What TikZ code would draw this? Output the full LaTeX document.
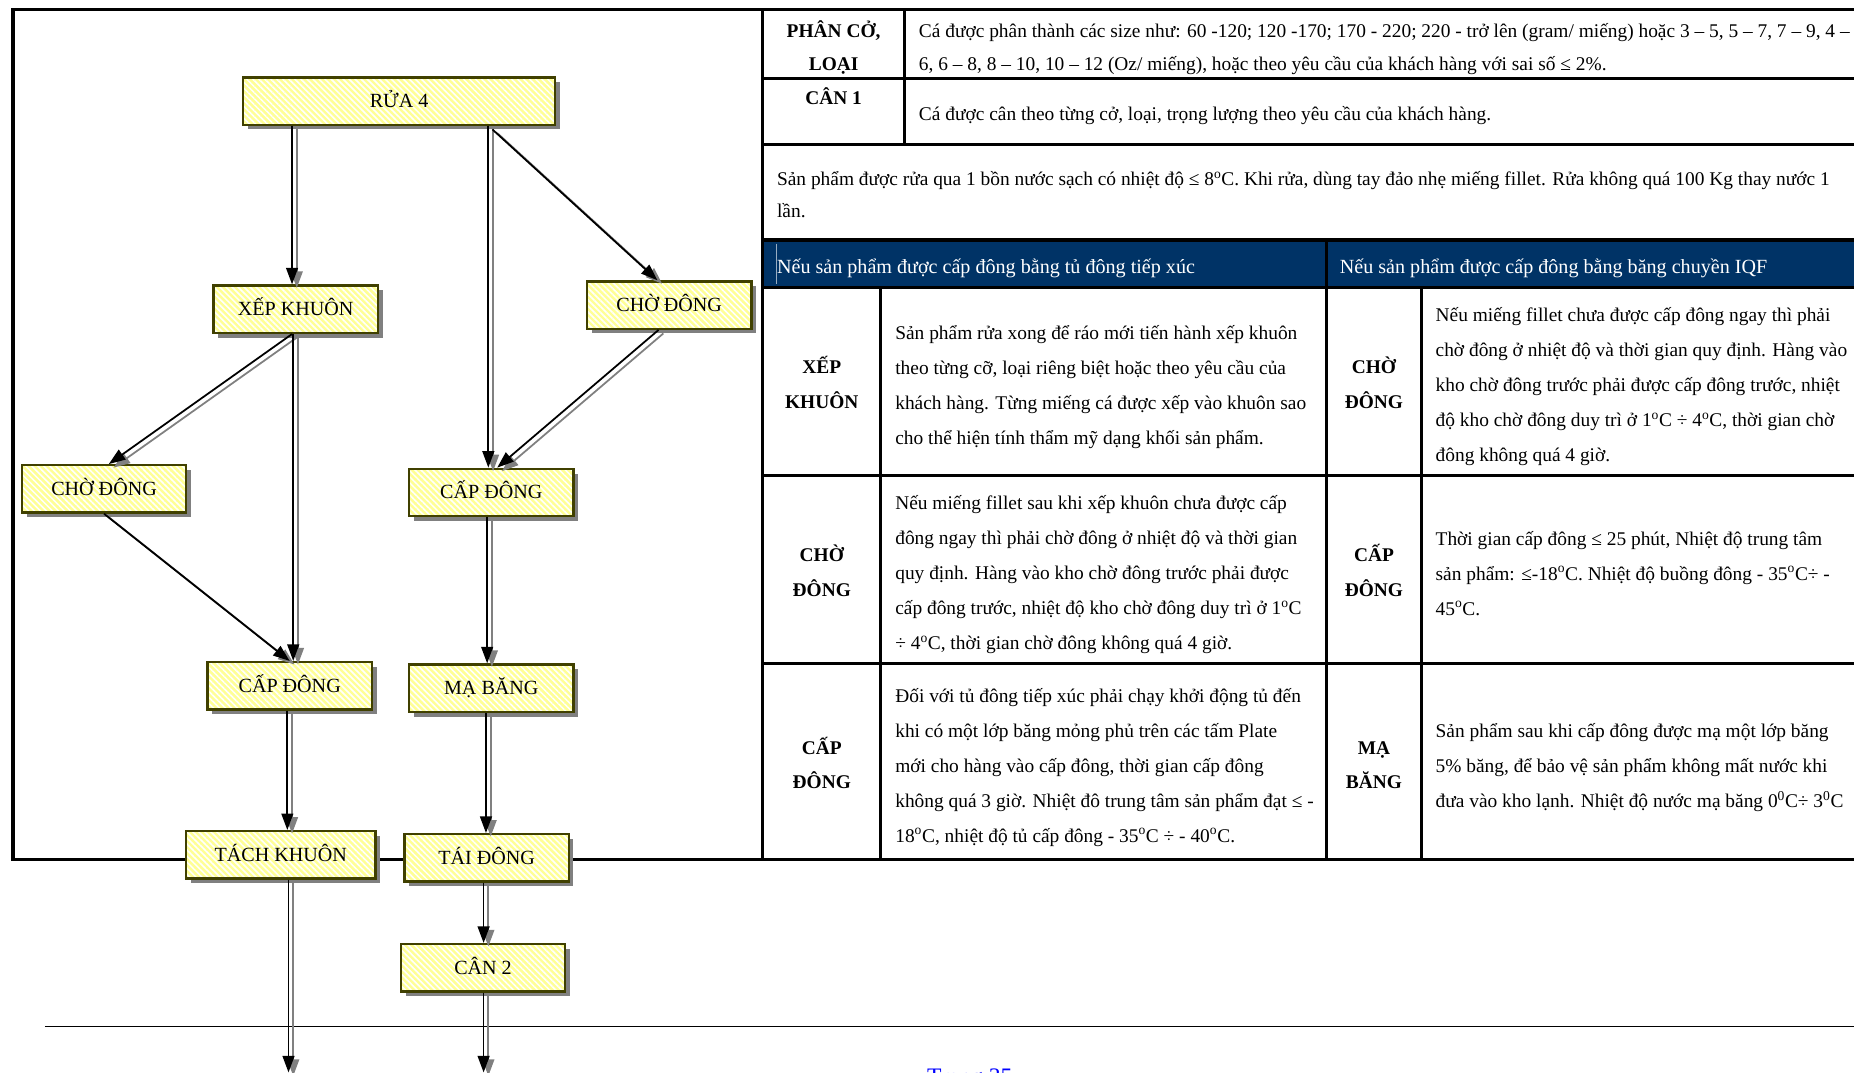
\documentclass[tikz,border=0pt]{standalone}
\usepackage{fontspec}
\setmainfont{Liberation Serif}
\usetikzlibrary{arrows.meta,patterns.meta,shadows,positioning}

\definecolor{hdrblue}{RGB}{0,51,102}
\definecolor{boxfill}{RGB}{255,255,150}
\definecolor{boxline}{RGB}{64,64,0}
\definecolor{shade}{RGB}{128,128,128}
\definecolor{pagblue}{RGB}{0,0,255}

\newcommand{\boxfont}{\fontsize{17}{20}\selectfont}
\newcommand{\txt}[2][29.6]{\parbox[t]{900pt}{\raggedright\fontsize{16.4}{#1}\selectfont #2}}
\newcommand{\hd}[2][29.6]{\parbox[t]{110pt}{\centering\bfseries\fontsize{16.4}{#1}\selectfont #2}}
\newcommand{\dg}{\textsuperscript{o}}

\begin{document}
\begin{tikzpicture}[x=1pt,y=-1pt,
    stepbox/.style={draw=boxline, line width=2pt, minimum width=139pt, minimum height=40pt, inner sep=0pt,
      drop shadow={shadow xshift=4pt, shadow yshift=-4pt, fill=shade, opacity=1},
      preaction={fill=boxfill},
      preaction={pattern={Lines[angle=-45,distance=3.6pt,line width=1.3pt]}, pattern color=white},
      font=\boxfont, text height=11pt, text depth=0pt},
    flow/.style={-{Triangle[length=14pt,width=10pt]}, line width=1.5pt,
      preaction={draw=shade, line width=1.5pt, -{Triangle[length=14pt,width=10pt]}, transform canvas={shift={(4pt,-3pt)}}}},
    tabline/.style={line width=2.6pt},
    cell/.style={anchor=base west, inner sep=0pt},
    lab/.style={anchor=base, inner sep=0pt}]
    \useasboundingbox (0,0) rectangle (1568,907);

    % frame and table lines
    \fill[hdrblue] (645,203) rectangle (1568,243);
    \draw[white!60!hdrblue, line width=0.8pt] (657,206) -- (657,240);
    \draw[tabline] (1568,8) -- (11,8) -- (11,727) -- (1568,727);
    \draw[tabline] (645,8) -- (645,727);
    \draw[tabline] (765,8) -- (765,122);
    \draw[tabline] (645,66) -- (1568,66);
    \draw[tabline] (645,122) -- (1568,122);
    \draw[tabline] (645,203) -- (1568,203);
    \draw[tabline] (645,243) -- (1568,243);
    \draw[tabline] (645,402) -- (1568,402);
    \draw[tabline] (645,561) -- (1568,561);
    \draw[tabline] (1122,203) -- (1122,727);
    \draw[tabline] (745,243) -- (745,727);
    \draw[tabline] (1202,243) -- (1202,727);
    \draw[line width=0.8pt] (38,868) -- (1568,868);

    % steps
    \node (rua) [stepbox, minimum width=264pt] at (337.5,85.5) {RỬA 4};;
    \node (xep) [stepbox] at (250,261.5) {XẾP KHUÔN};;
    \node (cho2) [stepbox] at (566,258) {CHỜ ĐÔNG};;
    \node (cho1) [stepbox] at (88,413.5) {CHỜ ĐÔNG};;
    \node (cap2) [stepbox] at (415.5,416.5) {CẤP ĐÔNG};;
    \node (cap1) [stepbox] at (245,580) {CẤP ĐÔNG};;
    \node (ma) [stepbox] at (415.5,582) {MẠ BĂNG};;
    \node (tach) [stepbox, minimum width=160pt] at (237.5,723) {TÁCH KHUÔN};;
    \node (tai) [stepbox] at (411.5,725.5) {TÁI ĐÔNG};;
    \node (can2) [stepbox] at (408.5,818.5) {CÂN 2};;
    \coordinate (out1) at (244,907);
    \coordinate (out2) at (409,907);

    % arrows
    \draw[flow] ([xshift=-3pt]xep.north |- rua.south) -- ([xshift=-3pt]xep.north);
    \draw[flow] ([xshift=-2.5pt]cap2.north |- rua.south) -- ([xshift=-2.5pt]cap2.north);
    \draw[flow] ([xshift=1pt,yshift=-3pt]cap2.north |- rua.south) -- ([xshift=-10pt]cho2.north);
    \draw[flow] ([xshift=-3pt]xep.south) -- ([xshift=4pt]cho1.north);
    \draw[flow] ([xshift=-2pt]xep.south) -- ([xshift=-2pt]xep.south |- cap1.north);
    \draw[flow] ([xshift=-9pt]cho2.south) -- ([xshift=5pt]cap2.north);
    \draw[flow] (cho1.south) -- (cap1.north);
    \draw[flow] ([xshift=-2pt]cap1.south) -- ([xshift=-2pt]cap1.south |- tach.north);
    \draw[flow] ([xshift=-3.5pt]cap2.south) -- ([xshift=-3.5pt]cap2.south |- ma.north);
    \draw[flow] ([xshift=-4.5pt]ma.south) -- ([xshift=-4.5pt]ma.south |- tai.north);
    \draw[flow] ([xshift=-2.5pt]tai.south) -- ([xshift=-2.5pt]tai.south |- can2.north);
    \draw[flow] (tach.south -| out1) -- (out1);
    \draw[flow] (can2.south -| out2) -- (out2);

    % table texts
    \node (phanL) [lab] at (705,32) {\hd[28]{PHÂN CỞ,\\LOẠI}};;
    \node (phanT) [cell] at (777,32) {\txt[28]{Cá được phân thành các size như: 60 -120; 120 -170; 170 - 220; 220 - trở lên (gram/ miếng) hoặc 3 – 5, 5 – 7, 7 – 9, 4 –\\6, 6 – 8, 8 – 10, 10 – 12 (Oz/ miếng), hoặc theo yêu cầu của khách hàng với sai số ≤ 2\%.}};;
    \node (canL) [lab] at (705,88) {\hd{CÂN 1}};;
    \node (canT) [cell] at (777,102) {\txt{Cá được cân theo từng cở, loại, trọng lượng theo yêu cầu của khách hàng.}};;
    \node (ruaT) [cell] at (657,157) {\txt[27]{Sản phẩm được rửa qua 1 bồn nước sạch có nhiệt độ ≤ 8\dg C. Khi rửa, dùng tay đảo nhẹ miếng fillet. Rửa không quá 100 Kg thay nước 1\\lần.}};;
    \node (hdrL) [cell, text=white] at (657,231) {\txt{\fontsize{17}{20}\selectfont Nếu sản phẩm được cấp đông bằng tủ đông tiếp xúc}};;
    \node (hdrR) [cell, text=white] at (1133,231) {\txt{\fontsize{17}{20}\selectfont Nếu sản phẩm được cấp đông bằng băng chuyền IQF}};;

    % contact freezer side
    \node (xepL) [lab] at (695,316) {\hd{XẾP\\KHUÔN}};;
    \node (xepT) [cell] at (757,287) {\txt{Sản phẩm rửa xong để ráo mới tiến hành xếp khuôn\\theo từng cỡ, loại riêng biệt hoặc theo yêu cầu của\\khách hàng. Từng miếng cá được xếp vào khuôn sao\\cho thể hiện tính thẩm mỹ dạng khối sản phẩm.}};;
    \node (choL) [lab] at (695,475) {\hd{CHỜ\\ĐÔNG}};;
    \node (choT) [cell] at (757,431) {\txt{Nếu miếng fillet sau khi xếp khuôn chưa được cấp\\đông ngay thì phải chờ đông ở nhiệt độ và thời gian\\quy định. Hàng vào kho chờ đông trước phải được\\cấp đông trước, nhiệt độ kho chờ đông duy trì ở 1\dg C\\÷ 4\dg C, thời gian chờ đông không quá 4 giờ.}};;
    \node (capL) [lab] at (695,638) {\hd[29]{CẤP\\ĐÔNG}};;
    \node (capT) [cell] at (757,594) {\txt{Đối với tủ đông tiếp xúc phải chạy khởi động tủ đến\\khi có một lớp băng mỏng phủ trên các tấm Plate\\mới cho hàng vào cấp đông, thời gian cấp đông\\không quá 3 giờ. Nhiệt đô trung tâm sản phẩm đạt ≤ -\\18\dg C, nhiệt độ tủ cấp đông - 35\dg C ÷ - 40\dg C.}};;

    % IQF side
    \node (choRL) [lab] at (1162,316) {\hd{CHỜ\\ĐÔNG}};;
    \node (choRT) [cell] at (1214,272) {\txt{Nếu miếng fillet chưa được cấp đông ngay thì phải\\chờ đông ở nhiệt độ và thời gian quy định. Hàng vào\\kho chờ đông trước phải được cấp đông trước, nhiệt\\độ kho chờ đông duy trì ở 1\dg C ÷ 4\dg C, thời gian chờ\\đông không quá 4 giờ.}};;
    \node (capRL) [lab] at (1162,475) {\hd{CẤP\\ĐÔNG}};;
    \node (capRT) [cell] at (1214,461) {\txt{Thời gian cấp đông ≤ 25 phút, Nhiệt độ trung tâm\\sản phẩm: ≤-18\dg C. Nhiệt độ buồng đông - 35\dg C÷ -\\45\dg C.}};;
    \node (maL) [lab] at (1162,638) {\hd[29]{MẠ\\BĂNG}};;
    \node (maT) [cell] at (1214,624) {\txt{Sản phẩm sau khi cấp đông được mạ một lớp băng\\5\% băng, để bảo vệ sản phẩm không mất nước khi\\đưa vào kho lạnh. Nhiệt độ nước mạ băng 0\textsuperscript{0}C÷ 3\textsuperscript{0}C}};;

    % page number
    \node (page) [anchor=north west, inner sep=0pt, text=pagblue] at (784,904) {\fontsize{20}{24}\selectfont Trang 35};;
\end{tikzpicture}
\end{document}
